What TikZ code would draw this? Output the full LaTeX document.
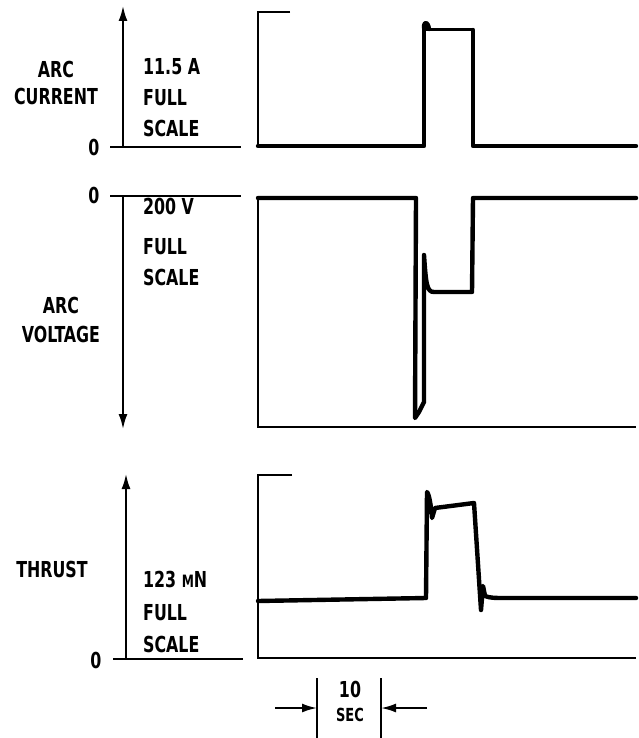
\documentclass[tikz,border=0pt]{standalone}
\usepackage{fontspec}
\setmainfont{DejaVu Sans Condensed}[FakeStretch=0.8]
\usetikzlibrary{positioning, arrows.meta}

\begin{document}
\begin{tikzpicture}[x=1pt, y=-1pt, >={Latex[length=15pt, width=9pt]},
    txt/.style={inner sep=0pt, font=\fontsize{22}{31}\selectfont\bfseries},
    axisline/.style={line width=2pt},
    frameline/.style={line width=1.7pt},
    trace/.style={line width=4.4pt, line join=round, line cap=round}]
  \useasboundingbox (0,0) rectangle (638,738);

  % arc current
  \coordinate (curorg) at (123,147);
  \coordinate (curtop) at (123,6);
  \draw[axisline] (110,147) -- (241,147);
  \draw[axisline, ->] (curorg) -- (curtop);
  \node[txt] (cur0) at (94,147) {0};
  \node[txt, align=center, anchor=north, font=\fontsize{22}{27}\selectfont\bfseries] (curname) at (56,61) {ARC\\CURRENT};
  \node[txt, align=left, anchor=north west] (curfs) at (143,58) {11.5 A\\FULL\\SCALE};
  \draw[frameline] (290,12) -- (258,12) -- (258,146);
  \draw[trace] (258,146) -- (424,146) -- (424,28) (473,30) -- (473,146) -- (636,146);
  \draw[trace] (424,28) .. controls (424,20) and (428,22) .. (429,29);
  \draw[line width=3pt] (424,30) -- (473,30);

  % arc voltage
  \coordinate (voltorg) at (123,196);
  \coordinate (voltbot) at (123,429);
  \draw[axisline] (110,196) -- (241,196);
  \draw[axisline, ->] (voltorg) -- (voltbot);
  \node[txt] (volt0) at (94,195) {0};
  \node[txt, align=center, anchor=north, font=\fontsize{22}{29}\selectfont\bfseries] (voltname) at (61,297) {ARC\\VOLTAGE};
  \node[txt, align=left, anchor=north west] (voltfs) at (143,198) {200 V\\[9pt]FULL\\SCALE};
  \draw[frameline] (258,198) -- (258,427) -- (636,427);
  \draw[trace] (258,198) -- (416,198) -- (415,418) -- (419,412) -- (424,402) -- (424,255)
    .. controls (426,285) and (427,292) .. (434,292) -- (472,292) -- (473,198) -- (636,198);

  % thrust
  \coordinate (throrg) at (126,659);
  \coordinate (thrtop) at (126,474);
  \draw[axisline] (113,659) -- (243,659);
  \draw[axisline, ->] (throrg) -- (thrtop);
  \node[txt] (thr0) at (96,660) {0};
  \node[txt, anchor=north] (thrname) at (52,561) {THRUST};
  \node[txt, align=left, anchor=north west, font=\fontsize{22}{32.5}\selectfont\bfseries] (thrfs) at (143,571)
    {123 {\fontsize{17}{17}\selectfont M}N\\FULL\\SCALE};
  \draw[frameline] (292,475) -- (258,475) -- (258,658) -- (636,658);
  \draw[trace] (258,601) -- (426,598) -- (427,492) .. controls (429,494) and (431,505) .. (432,518)
    -- (435,508) -- (474,503) -- (481,610) -- (483,586) -- (485,596)
    .. controls (490,598) and (495,598) .. (505,598) -- (636,598);

  % time scale
  \coordinate (tl) at (317,708);
  \coordinate (tr) at (381,708);
  \coordinate (tlin) at (275,708);
  \coordinate (trin) at (427,708);
  \draw[frameline] (317,678) -- (317,738) (381,678) -- (381,738);
  \draw[axisline, ->] (tlin) -- (tl);
  \draw[axisline, ->] (trin) -- (tr);
  \node[txt] (ten) at (350,689) {10};
  \node[txt, font=\fontsize{18}{18}\selectfont\bfseries, below=26pt of ten.center, anchor=center] (sec) {SEC};
\end{tikzpicture}
\end{document}
